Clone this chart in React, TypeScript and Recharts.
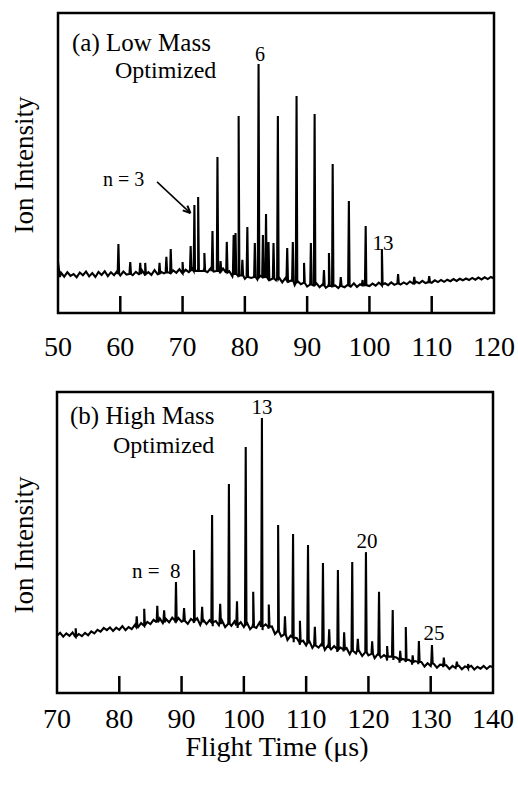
import React from 'react';
import { LineChart, Line, XAxis, YAxis, ReferenceArea, ReferenceLine } from 'recharts';

const ticksA = [50, 60, 70, 80, 90, 100, 110, 120];
const ticksB = [70, 80, 90, 100, 110, 120, 130, 140];

const baselineA: [number, number][] = [
  [50, 17], [50.3, 12.0], [50.5, 13.4], [51, 12.1], [51.5, 13.6], [52, 12.4], [52.5, 13.0], [53, 11.9], [53.5, 13.5], [54, 12.6],
  [54.5, 13.8], [55, 12.2], [55.5, 13.3], [56, 12.0], [56.5, 13.7], [57, 12.7], [57.5, 13.9], [58, 12.3], [58.5, 13.6], [59, 12.6],
  [59.5, 14.0], [60, 12.5], [60.5, 13.8], [61, 12.8], [61.5, 14.1], [62, 12.6], [62.5, 13.7], [63, 12.9], [63.5, 14.2], [64, 12.5],
  [64.5, 13.6], [65, 12.7], [65.5, 14.3], [66, 12.9], [66.5, 13.8], [67, 13.2], [67.5, 14.5], [68, 13.0], [68.5, 14.2], [69, 13.4],
  [69.5, 14.6], [70, 13.2], [70.5, 14.4], [71, 13.6], [71.5, 15.0], [72, 13.7], [72.5, 14.8], [73, 14.0], [73.5, 15.2], [74, 13.6],
  [74.5, 14.9], [75, 13.8], [75.5, 14.6], [76, 13.2], [76.5, 14.8], [77, 13.4], [77.5, 13.9], [78, 12.2], [78.5, 13.4], [79, 12.0],
  [79.5, 13.1], [80, 11.4], [80.5, 12.9], [81, 11.7], [81.5, 13.3], [82, 11.2], [82.5, 12.4], [83, 11.6], [83.5, 13.0], [84, 11.0],
  [84.5, 12.2], [85, 10.9], [85.5, 11.8], [86, 10.2], [86.5, 11.6], [87, 10.4], [87.5, 10.9], [88, 9.3], [88.5, 10.6], [89, 9.6],
  [89.5, 10.4], [90, 8.8], [90.5, 10.1], [91, 9.2], [91.5, 9.9], [92, 8.6], [92.5, 9.6], [93, 8.4], [93.5, 9.8], [94, 8.5],
  [94.5, 9.2], [95, 8.3], [95.5, 9.6], [96, 8.6], [96.5, 9.4], [97, 8.8], [97.5, 9.9], [98, 8.7], [98.5, 9.6], [99, 8.9],
  [99.5, 10.0], [100, 9.0], [100.5, 9.8], [101, 9.1], [101.5, 10.1], [102, 9.2], [102.5, 9.9], [103, 9.3], [103.5, 10.2], [104, 9.4],
  [104.5, 10.3], [105, 9.5], [105.5, 10.2], [106, 9.6], [106.5, 10.5], [107, 9.8], [107.5, 10.4], [108, 9.9], [108.5, 10.7], [109, 10.0],
  [109.5, 10.8], [110, 10.1], [110.5, 10.9], [111, 10.3], [111.5, 11.0], [112, 10.4], [112.5, 11.1], [113, 10.6], [113.5, 11.3], [114, 10.7],
  [114.5, 11.4], [115, 10.9], [115.5, 11.5], [116, 11.0], [116.5, 11.7], [117, 11.1], [117.5, 11.8], [118, 11.2], [118.5, 11.9], [119, 11.3],
  [119.5, 12.0], [120, 11.5],
];

// [flight time, local base, peak top]
const peaksA: [number, number, number][] = [
  [59.7, 13, 23.0], [61.6, 13, 17], [63.2, 13, 16.7], [64.0, 13, 16.7], [66.3, 13, 16.7], [67.4, 13.5, 18.7],
  [68.1, 13.5, 21.3], [70.0, 13.5, 17], [71.3, 14, 22.3], [71.9, 14, 36], [72.5, 14, 38.7], [73.5, 14, 20],
  [74.8, 14, 27.3], [75.6, 14, 52], [76.1, 14, 17.3], [77.1, 13.5, 23.7], [78.2, 13, 26], [78.5, 13, 26.7],
  [79.0, 12.5, 65.7], [79.6, 12.5, 17.7], [80.4, 12, 28.7], [81.6, 12, 23.3], [82.2, 12, 83], [82.9, 12, 26],
  [83.4, 12, 33], [83.8, 11.5, 23.7], [84.6, 11.5, 23.3], [85.3, 11.5, 65.7], [86.8, 11, 21.7], [87.7, 10.5, 23.7],
  [88.3, 10, 72.3], [89.5, 10, 16.7], [90.6, 9.5, 23.3], [91.2, 9.5, 66.3], [92.7, 9, 14.3], [93.5, 9, 20],
  [94.1, 9, 49.7], [95.4, 9, 12], [96.7, 9, 37.3], [98.9, 9.3, 11], [99.4, 9.3, 29], [102.0, 9.5, 21.3],
  [104.6, 9.8, 13], [107.2, 10, 12], [109.6, 10.3, 12.3],
];

const baselineB: [number, number][] = [
  [70, 19.0], [70.5, 20.0], [71, 18.7], [71.5, 19.8], [72, 19.0], [72.5, 20.1], [73, 18.6], [73.5, 19.6], [74, 18.9], [74.5, 20.0],
  [75, 19.2], [75.5, 20.5], [76, 19.8], [76.5, 21.0], [77, 20.4], [77.5, 21.6], [78, 20.9], [78.5, 21.8], [79, 20.6], [79.5, 21.7],
  [80, 21.0], [80.5, 22.2], [81, 20.9], [81.5, 21.9], [82, 21.2], [82.5, 22.6], [83, 21.8], [83.5, 23.2], [84, 22.3], [84.5, 23.6],
  [85, 22.9], [85.5, 24.3], [86, 23.4], [86.5, 24.8], [87, 23.2], [87.5, 24.6], [88, 23.5], [88.5, 25.0], [89, 23.4], [89.5, 24.9],
  [90, 23.7], [90.5, 25.1], [91, 23.0], [91.5, 24.6], [92, 23.3], [92.5, 24.8], [93, 22.6], [93.5, 24.3], [94, 22.9], [94.5, 24.2],
  [95, 22.2], [95.5, 23.9], [96, 22.5], [96.5, 24.0], [97, 21.9], [97.5, 23.6], [98, 22.3], [98.5, 23.8], [99, 21.6], [99.5, 23.5],
  [100, 21.9], [100.5, 23.4], [101, 21.2], [101.5, 23.1], [102, 21.6], [102.5, 23.4], [103, 20.9], [103.5, 22.8], [104, 21.4], [104.5, 22.1],
  [105, 19.6], [105.5, 21.0], [106, 18.8], [106.5, 20.1], [107, 17.6], [107.5, 19.0], [108, 16.9], [108.5, 18.2], [109, 16.0], [109.5, 17.4],
  [110, 15.8], [110.5, 17.3], [111, 15.0], [111.5, 16.6], [112, 15.1], [112.5, 16.4], [113, 14.3], [113.5, 15.8], [114, 14.5], [114.5, 15.6],
  [115, 13.6], [115.5, 15.1], [116, 13.8], [116.5, 14.9], [117, 12.9], [117.5, 14.4], [118, 13.1], [118.5, 14.0], [119, 12.3], [119.5, 13.7],
  [120, 12.5], [120.5, 13.4], [121, 11.6], [121.5, 12.9], [122, 11.8], [122.5, 12.6], [123, 10.8], [123.5, 12.1], [124, 11.0], [124.5, 11.8],
  [125, 10.1], [125.5, 11.3], [126, 10.3], [126.5, 11.0], [127, 9.4], [127.5, 10.6], [128, 9.6], [128.5, 10.3], [129, 8.8], [129.5, 9.9],
  [130, 9.0], [130.5, 9.7], [131, 8.4], [131.5, 9.4], [132, 8.6], [132.5, 9.2], [133, 8.0], [133.5, 9.0], [134, 8.3], [134.5, 9.1],
  [135, 7.9], [135.5, 8.8], [136, 8.2], [136.5, 9.0], [137, 7.8], [137.5, 8.7], [138, 8.1], [138.5, 9.0], [139, 8.0], [139.5, 8.9],
  [140, 8.6],
];

const peaksB: [number, number, number][] = [
  [73.0, 18.8, 21.5], [82.8, 22, 25.5], [84.0, 22.5, 28], [86.1, 23.5, 29], [87.2, 23.5, 27.5], [89.1, 24, 36.9],
  [90.4, 24, 28.2], [92.0, 24, 47.5], [93.3, 23.5, 28.6], [94.9, 23.5, 59.1], [96.2, 23, 29.6], [97.6, 23, 69.4],
  [98.9, 22.5, 30.5], [100.3, 22.5, 81.7], [101.5, 22, 33.6], [102.9, 22, 91.4], [104.0, 22, 29.4], [105.5, 20.5, 55.8],
  [106.6, 19.5, 25.5], [107.9, 18.5, 52.8], [109.0, 17, 24], [110.3, 16.5, 49.2], [111.4, 15.8, 22], [112.7, 15.5, 43.2],
  [113.7, 15, 21.2], [115.1, 14.5, 40.9], [116.1, 14.5, 20.2], [117.4, 14, 43.5], [118.3, 14, 18], [119.6, 13.5, 46.8],
  [120.6, 13, 17.2], [121.7, 12.5, 33.6], [123.0, 12, 15.6], [123.9, 12, 27.6], [125.1, 11, 14], [126.0, 11, 21.9],
  [127.1, 10.3, 12.5], [128.1, 10.3, 17.3], [130.2, 9.8, 15.9], [132.1, 9.3, 11.8], [134.2, 9, 10.4], [136.0, 8.6, 9.6],
];

type Row = { t: number; v: number };

function buildSeries(baseline: [number, number][], peaks: [number, number, number][]): Row[] {
  const rows: Row[] = baseline.map(([t, v]) => ({ t, v }));
  for (const [t, b, top] of peaks) {
    rows.push({ t: t - 0.12, v: b }, { t, v: top }, { t: t + 0.12, v: b });
  }
  rows.sort((a, b) => a.t - b.t);
  return rows;
}

const dataA = buildSeries(baselineA, peaksA);
const dataB = buildSeries(baselineB, peaksB);

const FONT = '"Liberation Serif", "Times New Roman", serif';

const makeTick = (first: number, last: number, labelDy: number) => (props: any) => {
  const { x, y, payload } = props;
  const v = payload.value;
  return (
    <g>
      {v !== first && v !== last && (
        <line x1={x} x2={x} y1={y} y2={y - 17} stroke="#000" strokeWidth={2.5} />
      )}
      <text x={x} y={y + labelDy} textAnchor="middle" fontSize={28} fontFamily={FONT} fill="#000">
        {v}
      </text>
    </g>
  );
};

export default function App() {
  return (
    <div style={{ position: 'absolute', left: 0, top: 0, width: 518, height: 785, background: '#fff' }}>
      <div style={{ position: 'absolute', left: 0, top: 0 }}>
        <LineChart width={518} height={380} data={dataA} margin={{ top: 13, right: 24, left: 58, bottom: 27 }}>
          <XAxis
            dataKey="t"
            type="number"
            domain={[50, 120]}
            ticks={ticksA}
            interval={0}
            height={40}
            axisLine={false}
            tickLine={false}
            tickSize={0}
            tickMargin={0}
            tick={makeTick(50, 120, 43)}
            allowDataOverflow
          />
          <YAxis hide domain={[0, 100]} type="number" allowDataOverflow />
          <Line dataKey="v" type="linear" stroke="#000" strokeWidth={2.1} dot={false} isAnimationActive={false} />
          <ReferenceArea x1={50} x2={120} y1={0} y2={100} fill="none" stroke="#000" strokeWidth={2.5} />
          <ReferenceLine segment={[{ x: 65.9, y: 43.7 }, { x: 71.26, y: 33.3 }]} stroke="#000" strokeWidth={1.5} />
          <ReferenceLine segment={[{ x: 70.77, y: 35.8 }, { x: 71.26, y: 33.3 }]} stroke="#000" strokeWidth={2} />
          <ReferenceLine segment={[{ x: 70.03, y: 34.2 }, { x: 71.26, y: 33.3 }]} stroke="#000" strokeWidth={2} />
        </LineChart>
      </div>
      <div style={{ position: 'absolute', left: 0, top: 380 }}>
        <LineChart width={518} height={405} data={dataB} margin={{ top: 12, right: 25, left: 57, bottom: 52 }}>
          <XAxis
            dataKey="t"
            type="number"
            domain={[70, 140]}
            ticks={ticksB}
            interval={0}
            height={40}
            axisLine={false}
            tickLine={false}
            tickSize={0}
            tickMargin={0}
            tick={makeTick(70, 140, 35)}
            allowDataOverflow
          />
          <YAxis hide domain={[0, 100]} type="number" allowDataOverflow />
          <Line dataKey="v" type="linear" stroke="#000" strokeWidth={2.1} dot={false} isAnimationActive={false} />
          <ReferenceArea x1={70} x2={140} y1={0} y2={100} fill="none" stroke="#000" strokeWidth={2.5} />
        </LineChart>
      </div>
      <svg
        width={518}
        height={785}
        style={{ position: 'absolute', left: 0, top: 0, pointerEvents: 'none' }}
        fontFamily={FONT}
        fill="#000"
      >
        <text x={33} y={165} fontSize={27} textAnchor="middle" transform="rotate(-90, 33, 165)">Ion Intensity</text>
        <text x={33} y={545} fontSize={27} textAnchor="middle" transform="rotate(-90, 33, 545)">Ion Intensity</text>
        <text x={72} y={51} fontSize={25}>(a) Low Mass</text>
        <text x={115} y={78} fontSize={24}>Optimized</text>
        <text x={260} y={61} fontSize={20} textAnchor="middle">6</text>
        <text x={103} y={186} fontSize={20}>n = 3</text>
        <text x={383} y={250} fontSize={21} textAnchor="middle">13</text>
        <text x={70} y={424} fontSize={25}>(b) High Mass</text>
        <text x={113} y={453} fontSize={24}>Optimized</text>
        <text x={262} y={414} fontSize={21} textAnchor="middle">13</text>
        <text x={367} y={548} fontSize={21} textAnchor="middle">20</text>
        <text x={132} y={578} fontSize={21} xmlSpace="preserve">n =  8</text>
        <text x={434} y={640} fontSize={21} textAnchor="middle">25</text>
        <text x={277} y={756} fontSize={28} textAnchor="middle">Flight Time (μs)</text>
      </svg>
    </div>
  );
}
